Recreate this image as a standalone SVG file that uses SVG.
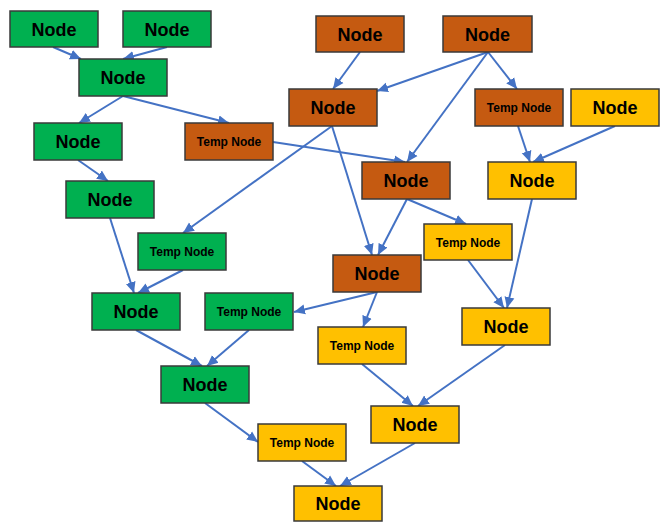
<svg xmlns="http://www.w3.org/2000/svg" width="667" height="522" viewBox="0 0 667 522">
<defs>
<marker id="ah" markerUnits="userSpaceOnUse" markerWidth="12" markerHeight="12" viewBox="0 0 12 12" refX="11" refY="6" orient="auto">
<path d="M0,1 L11,6 L0,11 Z" fill="#4472C4"/>
</marker>
<style>
.g{fill:#00B050}.b{fill:#C55A11}.y{fill:#FFC000}
.node rect{stroke:#3a3a3a;stroke-width:1.5}
text{font-family:"Liberation Sans",Arial,sans-serif;font-weight:bold;fill:#000;text-anchor:middle}
.n{font-size:18px}.t{font-size:12px}
#edges line{stroke:#4472C4;stroke-width:2;marker-end:url(#ah)}
</style>
</defs>
<rect x="0" y="0" width="667" height="522" fill="#fff"/>
<g id="edges">
<line x1="53" y1="47" x2="81" y2="59"/>
<line x1="167" y1="47" x2="123" y2="59"/>
<line x1="123" y1="96" x2="79" y2="123"/>
<line x1="123" y1="96" x2="229" y2="123"/>
<line x1="78" y1="160" x2="108" y2="181"/>
<line x1="110" y1="218" x2="134" y2="293"/>
<line x1="183" y1="270" x2="138" y2="293"/>
<line x1="332" y1="126" x2="183" y2="233"/>
<line x1="332" y1="126" x2="372" y2="255"/>
<line x1="407" y1="199" x2="378" y2="255"/>
<line x1="407" y1="199" x2="466" y2="224"/>
<line x1="273" y1="142" x2="405" y2="162"/>
<line x1="360" y1="52" x2="333" y2="89"/>
<line x1="488" y1="52" x2="377" y2="91"/>
<line x1="488" y1="52" x2="407" y2="162"/>
<line x1="488" y1="52" x2="517" y2="89"/>
<line x1="518" y1="126" x2="530" y2="162"/>
<line x1="615" y1="126" x2="533" y2="162"/>
<line x1="532" y1="199" x2="507" y2="308"/>
<line x1="468" y1="260" x2="504" y2="308"/>
<line x1="377" y1="292" x2="294" y2="312"/>
<line x1="377" y1="292" x2="363" y2="327"/>
<line x1="136" y1="330" x2="202" y2="366"/>
<line x1="249" y1="330" x2="207" y2="366"/>
<line x1="205" y1="403" x2="258" y2="442"/>
<line x1="362" y1="364" x2="413" y2="406"/>
<line x1="505" y1="345" x2="418" y2="406"/>
<line x1="302" y1="461" x2="336" y2="486"/>
<line x1="415" y1="443" x2="340" y2="486"/>
</g>
<g id="g1" class="node"><rect class="g" x="10" y="11" width="88" height="36"/><text class="n" x="54" y="35.5">Node</text></g>
<g id="g2" class="node"><rect class="g" x="123" y="11" width="88" height="36"/><text class="n" x="167" y="35.5">Node</text></g>
<g id="g3" class="node"><rect class="g" x="79" y="59" width="88" height="37"/><text class="n" x="123" y="84">Node</text></g>
<g id="g4" class="node"><rect class="g" x="34" y="123" width="88" height="37"/><text class="n" x="78" y="148">Node</text></g>
<g id="bt1" class="node"><rect class="b" x="185" y="123" width="88" height="37"/><text class="t" x="229" y="146">Temp Node</text></g>
<g id="b1" class="node"><rect class="b" x="316" y="16" width="88" height="36"/><text class="n" x="360" y="40.5">Node</text></g>
<g id="b2" class="node"><rect class="b" x="443" y="16" width="89" height="36"/><text class="n" x="487.5" y="40.5">Node</text></g>
<g id="b3" class="node"><rect class="b" x="289" y="89" width="88" height="37"/><text class="n" x="333" y="114">Node</text></g>
<g id="bt2" class="node"><rect class="b" x="475" y="89" width="88" height="37"/><text class="t" x="519" y="112">Temp Node</text></g>
<g id="y1" class="node"><rect class="y" x="571" y="89" width="88" height="37"/><text class="n" x="615" y="114">Node</text></g>
<g id="g5" class="node"><rect class="g" x="66" y="181" width="88" height="37"/><text class="n" x="110" y="206">Node</text></g>
<g id="b4" class="node"><rect class="b" x="362" y="162" width="88" height="37"/><text class="n" x="406" y="187">Node</text></g>
<g id="y2" class="node"><rect class="y" x="488" y="162" width="88" height="37"/><text class="n" x="532" y="187">Node</text></g>
<g id="gt1" class="node"><rect class="g" x="138" y="233" width="88" height="37"/><text class="t" x="182" y="256">Temp Node</text></g>
<g id="yt1" class="node"><rect class="y" x="424" y="224" width="88" height="36"/><text class="t" x="468" y="246.5">Temp Node</text></g>
<g id="b5" class="node"><rect class="b" x="333" y="255" width="88" height="37"/><text class="n" x="377" y="280">Node</text></g>
<g id="g6" class="node"><rect class="g" x="92" y="293" width="88" height="37"/><text class="n" x="136" y="318">Node</text></g>
<g id="gt2" class="node"><rect class="g" x="205" y="293" width="88" height="37"/><text class="t" x="249" y="316">Temp Node</text></g>
<g id="yt2" class="node"><rect class="y" x="318" y="327" width="88" height="37"/><text class="t" x="362" y="350">Temp Node</text></g>
<g id="y3" class="node"><rect class="y" x="462" y="308" width="88" height="37"/><text class="n" x="506" y="333">Node</text></g>
<g id="g7" class="node"><rect class="g" x="161" y="366" width="88" height="37"/><text class="n" x="205" y="391">Node</text></g>
<g id="y4" class="node"><rect class="y" x="371" y="406" width="88" height="37"/><text class="n" x="415" y="431">Node</text></g>
<g id="yt3" class="node"><rect class="y" x="258" y="424" width="88" height="37"/><text class="t" x="302" y="447">Temp Node</text></g>
<g id="y5" class="node"><rect class="y" x="294" y="486" width="88" height="35"/><text class="n" x="338" y="510">Node</text></g>
</svg>
